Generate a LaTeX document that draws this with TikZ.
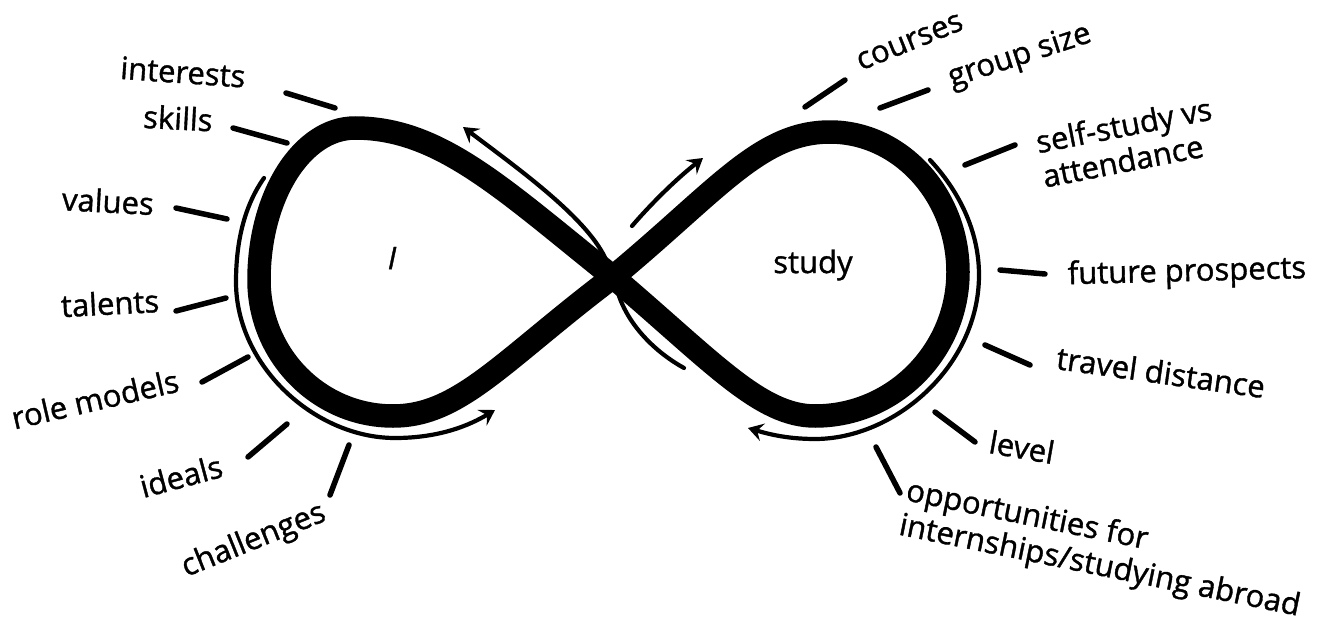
\documentclass[tikz,border=0pt]{standalone}
\usepackage{fontspec}
\setmainfont{Open Sans}[FakeBold=1.2]
\usetikzlibrary{arrows.meta}
\begin{document}
\begin{tikzpicture}[x=1pt,y=-1pt,
  band/.style={line width=23.5pt, line join=round},
  brush/.style={line width=4.2pt, line cap=round},
  tickmark/.style={line width=5.5pt, line cap=round},
  lbl/.style={font=\fontsize{31}{35}\selectfont, inner sep=0pt},
  tip/.style={-{Stealth[length=15pt,width=18pt,inset=5.5pt]}}
]
\path[use as bounding box] (0,0) rectangle (1342,623);

% infinity band
\coordinate (C) at (613,277);
\draw[band] (C) .. controls (503,189) and (440,128) .. (355,128)
  .. controls (302,128) and (259,196) .. (259,280)
  .. controls (259,355) and (319,416) .. (393,416)
  .. controls (460,416) and (503,360) .. (C)
  .. controls (718,190) and (760,132) .. (830,132)
  .. controls (900,132) and (958,195) .. (958,272)
  .. controls (958,351) and (894,416) .. (815,416)
  .. controls (760,416) and (713,362) .. cycle;

% brush strokes
\coordinate (a1) at (264,178);
\coordinate (a2) at (495,410);
\draw[brush,tip] (a1) .. controls (245,205) and (236,240) .. (236,282)
  .. controls (236,366) and (315,438) .. (395,438)
  .. controls (440,438) and (470,425) .. (a2);
\coordinate (b1) at (930,160);
\coordinate (b2) at (748,428);
\draw[brush,tip] (b1) .. controls (958,190) and (979,230) .. (979,275)
  .. controls (979,366) and (895,439) .. (815,439)
  .. controls (785,439) and (765,433) .. (b2);
\coordinate (c1) at (607,262);
\coordinate (c2) at (463,127);
\draw[brush,tip] (c1) .. controls (590,220) and (520,170) .. (c2);
\coordinate (d1) at (618,293);
\coordinate (d2) at (684,368);
\draw[brush] (d1) .. controls (628,325) and (655,352) .. (d2);
\coordinate (e1) at (632,226);
\coordinate (e2) at (703,158);
\draw[brush,tip] (e1) .. controls (650,205) and (675,180) .. (e2);

% centre labels
\node[lbl] (I) at (392,258) {\itshape I};
\node[lbl] (study) at (813,265) {study};

% left labels
\node[lbl,rotate=-4] (interests) at (183,72) {interests};
\node[lbl,rotate=-3] (skills) at (178,118) {skills};
\node[lbl,rotate=-3] (values) at (108,201) {values};
\node[lbl,rotate=3] (talents) at (110,303) {talents};
\node[lbl,rotate=13] (rolemodels) at (95,399) {role models};
\node[lbl,rotate=15] (ideals) at (181,476) {ideals};
\node[lbl,rotate=22] (challenges) at (254,541) {challenges};

% right labels
\node[lbl,rotate=22] (courses) at (910,42) {courses};
\node[lbl,rotate=18] (groupsize) at (1020,57) {group size};
\node[lbl,rotate=11,align=left] (selfstudy) at (1127,142) {self-study vs\\attendance};
\node[lbl,rotate=1.5] (future) at (1187,273) {future prospects};
\node[lbl,rotate=-8] (travel) at (1161,372) {travel distance};
\node[lbl,rotate=-10] (level) at (1022,447) {level};
\node[lbl,rotate=-11.5,align=left] (opps) at (1103,550) {opportunities for\\internships/studying abroad};

% tick marks
\coordinate (t1a) at (286,93);   \coordinate (t1b) at (335,108);
\coordinate (t2a) at (233,128);  \coordinate (t2b) at (287,143);
\coordinate (t3a) at (176,208);  \coordinate (t3b) at (227,219);
\coordinate (t4a) at (176,311);  \coordinate (t4b) at (226,298);
\coordinate (t5a) at (202,382);  \coordinate (t5b) at (248,357);
\coordinate (t6a) at (248,457);  \coordinate (t6b) at (287,424);
\coordinate (t7a) at (330,495);  \coordinate (t7b) at (349,445);
\coordinate (t8a) at (805,107);  \coordinate (t8b) at (845,80);
\coordinate (t9a) at (880,108);  \coordinate (t9b) at (928,90);
\coordinate (t10a) at (965,165); \coordinate (t10b) at (1015,145);
\coordinate (t11a) at (1000,270);\coordinate (t11b) at (1045,274);
\coordinate (t12a) at (985,345); \coordinate (t12b) at (1030,365);
\coordinate (t13a) at (935,412); \coordinate (t13b) at (975,442);
\coordinate (t14a) at (876,447); \coordinate (t14b) at (900,493);
\draw[tickmark] (t1a) -- (t1b);
\draw[tickmark] (t2a) -- (t2b);
\draw[tickmark] (t3a) -- (t3b);
\draw[tickmark] (t4a) -- (t4b);
\draw[tickmark] (t5a) -- (t5b);
\draw[tickmark] (t6a) -- (t6b);
\draw[tickmark] (t7a) -- (t7b);
\draw[tickmark] (t8a) -- (t8b);
\draw[tickmark] (t9a) -- (t9b);
\draw[tickmark] (t10a) -- (t10b);
\draw[tickmark] (t11a) -- (t11b);
\draw[tickmark] (t12a) -- (t12b);
\draw[tickmark] (t13a) -- (t13b);
\draw[tickmark] (t14a) -- (t14b);
\end{tikzpicture}
\end{document}
